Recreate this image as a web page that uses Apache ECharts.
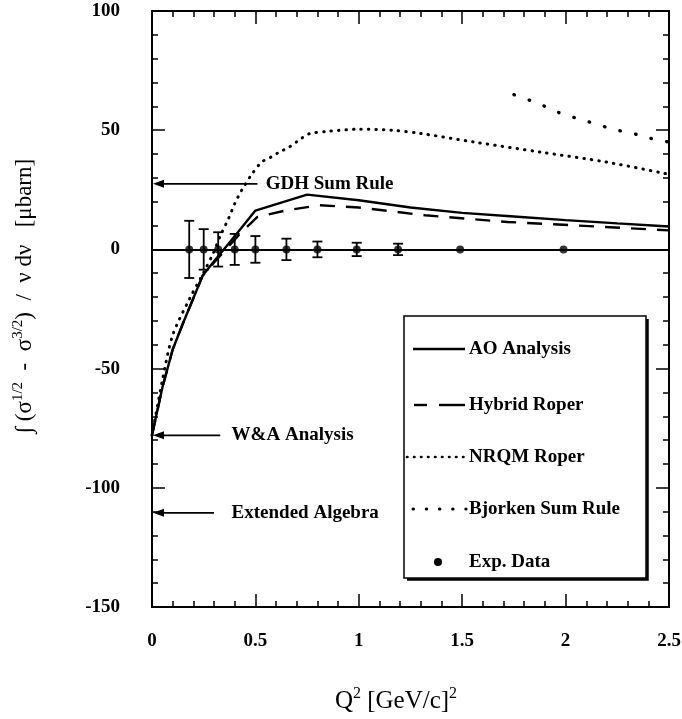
<!DOCTYPE html>
<html>
<head>
<meta charset="utf-8">
<script src="https://cdn.jsdelivr.net/npm/echarts@6/dist/echarts.min.js"></script>
<style>
  html, body { margin: 0; padding: 0; background: #fff; }
  #main { width: 682px; height: 719px; }
</style>
</head>
<body>
<div id="main"></div>
<script>
// Tick labels
const xTickLabels = ['0', '0.5', '1', '1.5', '2', '2.5'];
const yTickLabels = ['-150', '-100', '-50', '0', '50', '100'];

// AO Analysis (solid)
const aoX = [0, 0.05, 0.1, 0.15, 0.2, 0.245, 0.3, 0.37, 0.43, 0.5, 0.75, 1.0, 1.25, 1.5, 1.75, 2.0, 2.25, 2.5];
const aoY = [-78, -58, -42, -31, -20.5, -11, -5, 2.4, 8.8, 16.3, 23, 20.6, 17.6, 15.3, 13.8, 12.3, 10.9, 9.6];

// Hybrid Roper (dashed)
const hyX = [0, 0.05, 0.1, 0.15, 0.2, 0.245, 0.3, 0.37, 0.43, 0.51, 0.65, 0.81, 1.0, 1.32, 1.72, 2.04, 2.5];
const hyY = [-78, -58, -42, -31, -20.5, -11, -5.5, 1.2, 7, 13.6, 16.4, 18.5, 17.6, 14.3, 11.5, 10.1, 8.0];

// NRQM Roper (fine dots)
const nqX = [0, 0.05, 0.1, 0.18, 0.255, 0.295, 0.335, 0.37, 0.40, 0.435, 0.485, 0.53, 0.575, 0.615, 0.665, 0.72, 0.76, 0.85, 1.0, 1.16, 1.3, 1.56, 1.88, 2.2, 2.5];
const nqY = [-78, -55, -36, -21, -8.8, -1.8, 6.6, 12.9, 19.2, 25, 31.8, 36.6, 38.7, 40.8, 43, 46.4, 48.5, 49.5, 50.4, 50, 48.6, 45, 40.8, 36.6, 31.5];

// Bjorken Sum Rule (sparse dots)
const bjX = [1.75, 1.83, 1.90, 1.97, 2.05, 2.12, 2.20, 2.27, 2.35, 2.42, 2.5];
const bjY = [64.9, 62.4, 60, 57.3, 55.1, 53.3, 51.2, 49.6, 48.1, 46.4, 45];

// Experimental data with errors
const expX = [0.18, 0.25, 0.32, 0.40, 0.50, 0.65, 0.80, 0.99, 1.19, 1.49, 1.99];
const expY = [0, 0, 0, 0, 0, 0, 0, 0, 0, 0, 0];
const expErr = [12, 8.5, 7.2, 6.5, 5.6, 4.5, 3.3, 2.8, 2.4, 0, 0];

// Sum-rule / analysis markers on the Q^2 = 0 axis
const annoNames = ['GDH Sum Rule', 'W&A Analysis', 'Extended Algebra'];
const annoY = [27.5, -78, -110.5];
const annoEndX = [0.51, 0.33, 0.30];
const annoTextX = [0.55, 0.385, 0.385];

const SERIF = '"Liberation Serif", "DejaVu Serif", serif';
const zip = (xs, ys) => xs.map((x, i) => [x, ys[i]]);

const chart = echarts.init(document.getElementById('main'), null, { renderer: 'canvas' });

const axisCommon = {
  type: 'value',
  axisLine: { onZero: false, lineStyle: { color: '#000', width: 2 } },
  axisTick: { inside: true, length: 13, lineStyle: { color: '#000', width: 1.5 } },
  minorTick: { show: true, splitNumber: 5, length: 6, lineStyle: { color: '#000', width: 1.5 } },
  splitLine: { show: false },
  minorSplitLine: { show: false }
};

const tickFont = { color: '#000', fontFamily: SERIF, fontWeight: 'bold', fontSize: 19 };

chart.setOption({
  animation: false,
  backgroundColor: '#fff',
  grid: { left: 152, right: 13, top: 11, bottom: 112, outerBoundsMode: 'none', containLabel: false },
  xAxis: [
    Object.assign({}, axisCommon, {
      min: 0, max: 2.5, interval: 0.5, position: 'bottom',
      axisLabel: Object.assign({ margin: 25, formatter: (v, i) => xTickLabels[i] }, tickFont)
    }),
    Object.assign({}, axisCommon, {
      min: 0, max: 2.5, interval: 0.5, position: 'top',
      axisLabel: { show: false }
    })
  ],
  yAxis: [
    Object.assign({}, axisCommon, {
      min: -150, max: 100, interval: 50, position: 'left',
      axisLabel: Object.assign({ margin: 32, formatter: (v, i) => yTickLabels[i] }, tickFont)
    }),
    Object.assign({}, axisCommon, {
      min: -150, max: 100, interval: 50, position: 'right',
      axisLabel: { show: false }
    })
  ],
  series: [
    {
      name: 'AO Analysis', type: 'line', data: zip(aoX, aoY),
      showSymbol: false, symbol: 'none', silent: true,
      lineStyle: { color: '#000', width: 2.4 }
    },
    {
      name: 'Hybrid Roper', type: 'line', data: zip(hyX, hyY),
      showSymbol: false, symbol: 'none', silent: true,
      lineStyle: { color: '#000', width: 2.4, type: [15, 11] }
    },
    {
      name: 'NRQM Roper', type: 'line', data: zip(nqX, nqY),
      showSymbol: false, symbol: 'none', silent: true, smooth: 0.3,
      lineStyle: { color: '#000', width: 3, type: [0.5, 7], cap: 'round' }
    },
    {
      name: 'Bjorken Sum Rule', type: 'line', data: zip(bjX, bjY),
      showSymbol: false, symbol: 'none', silent: true, smooth: 0.3,
      lineStyle: { color: '#000', width: 3.4, type: [0.5, 15.5], cap: 'round' }
    },
    {
      name: 'Exp. Data errors', type: 'custom', silent: true,
      data: expX.map((x, i) => [x, expY[i], expErr[i]]),
      renderItem: (params, api) => {
        const x = api.value(0), y = api.value(1), e = api.value(2);
        if (!e) return null;
        const top = api.coord([x, y + e]);
        const bot = api.coord([x, y - e]);
        const hw = 5;
        const st = { stroke: '#000', lineWidth: 1.8 };
        return {
          type: 'group',
          children: [
            { type: 'line', shape: { x1: top[0], y1: top[1], x2: bot[0], y2: bot[1] }, style: st },
            { type: 'line', shape: { x1: top[0] - hw, y1: top[1], x2: top[0] + hw, y2: top[1] }, style: st },
            { type: 'line', shape: { x1: bot[0] - hw, y1: bot[1], x2: bot[0] + hw, y2: bot[1] }, style: st }
          ]
        };
      }
    },
    {
      name: 'Exp. Data', type: 'scatter', data: zip(expX, expY),
      symbol: 'circle', symbolSize: 8, silent: true,
      itemStyle: { color: '#000' },
      markLine: {
        silent: true, symbol: ['none', 'none'], label: { show: false },
        lineStyle: { color: '#000', width: 2, type: 'solid' },
        data: [{ yAxis: 0 }]
      }
    }
  ]
});

// Annotation arrows pointing at the Q^2 = 0 axis, plus the legend box
const graphics = [];
const annoFont = { fontFamily: SERIF, fontWeight: 'bold', fontSize: 19 };

annoNames.forEach((name, i) => {
  const p0 = chart.convertToPixel({ gridIndex: 0 }, [0, annoY[i]]);
  const p1 = chart.convertToPixel({ gridIndex: 0 }, [annoEndX[i], annoY[i]]);
  const pt = chart.convertToPixel({ gridIndex: 0 }, [annoTextX[i], annoY[i]]);
  graphics.push({
    type: 'line', silent: true,
    shape: { x1: p0[0] + 8, y1: p0[1], x2: p1[0], y2: p1[1] },
    style: { stroke: '#000', lineWidth: 1.8 }
  });
  graphics.push({
    type: 'polygon', silent: true,
    shape: { points: [[p0[0] + 1, p0[1]], [p0[0] + 12, p0[1] - 4], [p0[0] + 12, p0[1] + 4]] },
    style: { fill: '#000' }
  });
  graphics.push({
    type: 'text', silent: true, x: pt[0], y: pt[1],
    style: Object.assign({ text: name, fill: '#000', align: 'left', verticalAlign: 'middle',
      textAlign: 'left', textVerticalAlign: 'middle' }, annoFont)
  });
});

// Legend
const lg = { x: 404, y: 316, w: 242, h: 262 };
graphics.push({
  type: 'rect', silent: true,
  shape: { x: lg.x, y: lg.y, width: lg.w, height: lg.h },
  style: { fill: '#fff', stroke: '#000', lineWidth: 1.5 }
});
graphics.push({
  type: 'polyline', silent: true,
  shape: { points: [[lg.x + 3, lg.y + lg.h + 1.5], [lg.x + lg.w + 1.5, lg.y + lg.h + 1.5], [lg.x + lg.w + 1.5, lg.y + 3]] },
  style: { fill: null, stroke: '#000', lineWidth: 2.5 }
});

const legendNames = ['AO Analysis', 'Hybrid Roper', 'NRQM Roper', 'Bjorken Sum Rule', 'Exp. Data'];
const legendRowY = [349, 405, 457, 509, 562];
const textX = 469;
const legendSamples = [
  [{ x1: 413, x2: 465, style: { stroke: '#000', lineWidth: 2.4 } }],
  [{ x1: 414, x2: 427, style: { stroke: '#000', lineWidth: 2.4 } },
   { x1: 439, x2: 465, style: { stroke: '#000', lineWidth: 2.4 } }],
  [{ x1: 407, x2: 465, style: { stroke: '#000', lineWidth: 2.6, lineDash: [0.5, 6.5], lineCap: 'round' } }],
  [{ x1: 413, x2: 466, style: { stroke: '#000', lineWidth: 3, lineDash: [0.5, 12.7], lineCap: 'round' } }]
];
legendNames.forEach((name, i) => {
  const y = legendRowY[i];
  if (i < 4) {
    legendSamples[i].forEach(s => graphics.push({
      type: 'line', silent: true,
      shape: { x1: s.x1, y1: y, x2: s.x2, y2: y },
      style: s.style
    }));
  } else {
    graphics.push({
      type: 'circle', silent: true,
      shape: { cx: 438, cy: y, r: 4 },
      style: { fill: '#000' }
    });
  }
  graphics.push({
    type: 'text', silent: true, x: textX, y: y,
    style: Object.assign({ text: name, fill: '#000', align: 'left', verticalAlign: 'middle',
      textAlign: 'left', textVerticalAlign: 'middle' }, annoFont)
  });
});

// Axis titles
graphics.push({
  type: 'text', silent: true, x: 25, y: 296, rotation: Math.PI / 2,
  style: {
    text: '\u222B (\u03C3{sup|1/2}  -  \u03C3{sup|3/2})  /  \u03BD d\u03BD   [\u03BCbarn]',
    fill: '#000', fontFamily: SERIF, fontSize: 23,
    align: 'center', verticalAlign: 'middle', textAlign: 'center', textVerticalAlign: 'middle',
    lineHeight: 28,
    rich: { sup: { fontFamily: SERIF, fontSize: 15, lineHeight: 15, verticalAlign: 'top', fill: '#000' } }
  }
});
graphics.push({
  type: 'text', silent: true, x: 396, y: 701,
  style: {
    text: 'Q{sup|2} [GeV/c]{sup|2}',
    fill: '#000', fontFamily: SERIF, fontSize: 25,
    align: 'center', verticalAlign: 'middle', textAlign: 'center', textVerticalAlign: 'middle',
    lineHeight: 30,
    rich: { sup: { fontFamily: SERIF, fontSize: 16, lineHeight: 16, verticalAlign: 'top', fill: '#000' } }
  }
});

chart.setOption({ graphic: graphics });
</script>
</body>
</html>
